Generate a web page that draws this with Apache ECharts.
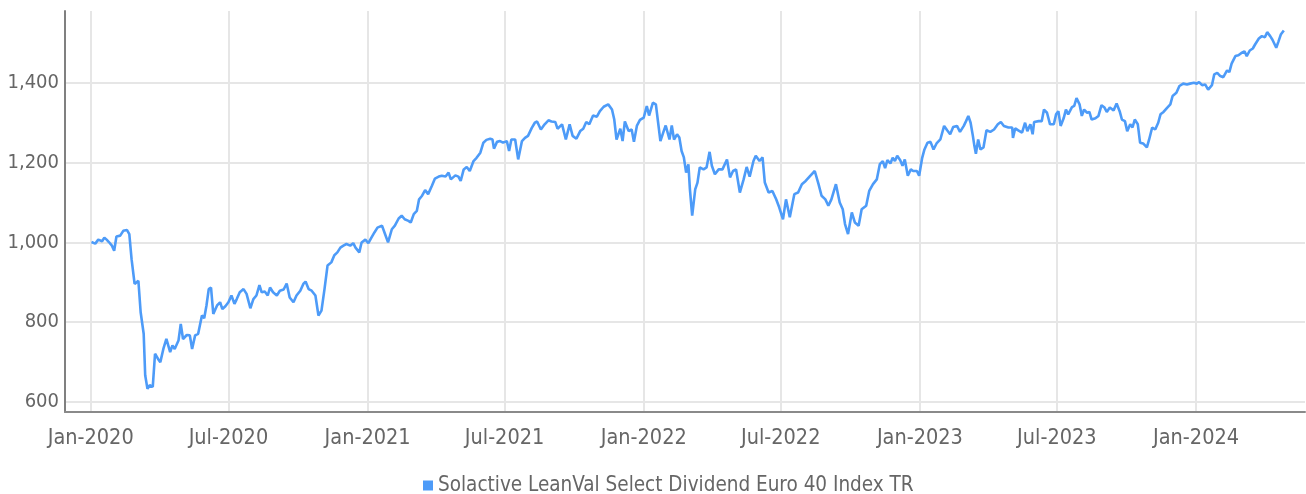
<!DOCTYPE html>
<html>
<head>
<meta charset="utf-8">
<script src="https://cdn.jsdelivr.net/npm/echarts@6/dist/echarts.min.js"></script>
<style>
html,body{margin:0;padding:0;background:#fff;}
#chart{width:1306px;height:494px;}
</style>
</head>
<body>
<div id="chart"></div>
<script>
const seriesName = 'Solactive LeanVal Select Dividend Euro 40 Index TR';
const axisStart = '2019-11-28';
const axisEnd = '2024-05-24';
const yTickLabels = [600, 800, 1000, 1200, 1400];

const dates = [
'2020-01-02','2020-01-07','2020-01-11','2020-01-16','2020-01-19','2020-01-22','2020-01-25','2020-01-29','2020-02-01','2020-02-04',
'2020-02-09','2020-02-13','2020-02-18','2020-02-21','2020-02-24','2020-02-28','2020-03-04','2020-03-07','2020-03-11','2020-03-13',
'2020-03-16','2020-03-19','2020-03-23','2020-03-26','2020-03-30','2020-04-02','2020-04-06','2020-04-10','2020-04-15','2020-04-18',
'2020-04-21','2020-04-26','2020-04-29','2020-05-02','2020-05-07','2020-05-11','2020-05-14','2020-05-18','2020-05-22','2020-05-27',
'2020-05-30','2020-06-02','2020-06-05','2020-06-08','2020-06-11','2020-06-16','2020-06-20','2020-06-23','2020-06-27','2020-07-01',
'2020-07-05','2020-07-09','2020-07-12','2020-07-16','2020-07-21','2020-07-25','2020-07-30','2020-08-03','2020-08-07','2020-08-11',
'2020-08-14','2020-08-18','2020-08-22','2020-08-25','2020-08-29','2020-09-03','2020-09-07','2020-09-12','2020-09-16','2020-09-20',
'2020-09-25','2020-09-29','2020-10-04','2020-10-08','2020-10-11','2020-10-15','2020-10-19','2020-10-24','2020-10-28','2020-11-01',
'2020-11-05','2020-11-09','2020-11-14','2020-11-18','2020-11-22','2020-11-26','2020-11-30','2020-12-04','2020-12-09','2020-12-13',
'2020-12-16','2020-12-21','2020-12-24','2020-12-29','2021-01-02','2021-01-06','2021-01-10','2021-01-14','2021-01-20','2021-01-24',
'2021-01-28','2021-02-02','2021-02-06','2021-02-11','2021-02-15','2021-02-19','2021-02-24','2021-02-27','2021-03-03','2021-03-07',
'2021-03-10','2021-03-14','2021-03-18','2021-03-22','2021-03-27','2021-03-31','2021-04-05','2021-04-09','2021-04-14','2021-04-18',
'2021-04-21','2021-04-27','2021-05-01','2021-05-04','2021-05-08','2021-05-12','2021-05-16','2021-05-21','2021-05-25','2021-05-30',
'2021-06-03','2021-06-07','2021-06-12','2021-06-15','2021-06-17','2021-06-21','2021-06-25','2021-06-29','2021-07-04','2021-07-07',
'2021-07-10','2021-07-15','2021-07-19','2021-07-24','2021-07-28','2021-08-01','2021-08-06','2021-08-10','2021-08-13','2021-08-18',
'2021-08-23','2021-08-28','2021-09-01','2021-09-06','2021-09-09','2021-09-15','2021-09-20','2021-09-25','2021-09-29','2021-10-04',
'2021-10-09','2021-10-13','2021-10-17','2021-10-21','2021-10-26','2021-10-31','2021-11-04','2021-11-09','2021-11-15','2021-11-20',
'2021-11-23','2021-11-26','2021-12-01','2021-12-04','2021-12-07','2021-12-12','2021-12-16','2021-12-19','2021-12-23','2021-12-27',
'2022-01-01','2022-01-05','2022-01-08','2022-01-13','2022-01-17','2022-01-20','2022-01-23','2022-01-27','2022-01-30','2022-02-04',
'2022-02-07','2022-02-10','2022-02-14','2022-02-17','2022-02-20','2022-02-23','2022-02-26','2022-03-01','2022-03-03','2022-03-06',
'2022-03-10','2022-03-13','2022-03-16','2022-03-21','2022-03-25','2022-03-29','2022-04-01','2022-04-05','2022-04-10','2022-04-15',
'2022-04-21','2022-04-25','2022-04-29','2022-05-03','2022-05-08','2022-05-13','2022-05-17','2022-05-21','2022-05-26','2022-05-29',
'2022-06-03','2022-06-07','2022-06-10','2022-06-15','2022-06-20','2022-06-25','2022-06-29','2022-07-04','2022-07-08','2022-07-13',
'2022-07-19','2022-07-24','2022-07-29','2022-08-03','2022-08-09','2022-08-15','2022-08-20','2022-08-24','2022-08-29','2022-09-02',
'2022-09-06','2022-09-12','2022-09-17','2022-09-21','2022-09-24','2022-09-28','2022-10-03','2022-10-07','2022-10-12','2022-10-16',
'2022-10-22','2022-10-26','2022-10-31','2022-11-05','2022-11-09','2022-11-13','2022-11-16','2022-11-19','2022-11-23','2022-11-26',
'2022-11-29','2022-12-02','2022-12-06','2022-12-09','2022-12-12','2022-12-16','2022-12-20','2022-12-23','2022-12-28','2022-12-31',
'2023-01-04','2023-01-07','2023-01-11','2023-01-15','2023-01-19','2023-01-23','2023-01-28','2023-01-30','2023-02-02','2023-02-06',
'2023-02-10','2023-02-14','2023-02-19','2023-02-23','2023-02-28','2023-03-03','2023-03-06','2023-03-09','2023-03-12','2023-03-14',
'2023-03-16','2023-03-19','2023-03-22','2023-03-26','2023-03-30','2023-04-04','2023-04-09','2023-04-14','2023-04-18','2023-04-22',
'2023-04-28','2023-05-03','2023-05-04','2023-05-07','2023-05-11','2023-05-16','2023-05-20','2023-05-23','2023-05-27','2023-05-30',
'2023-06-01','2023-06-07','2023-06-11','2023-06-14','2023-06-18','2023-06-22','2023-06-27','2023-06-30','2023-07-03','2023-07-06',
'2023-07-10','2023-07-13','2023-07-16','2023-07-21','2023-07-24','2023-07-27','2023-07-31','2023-08-03','2023-08-06','2023-08-10',
'2023-08-13','2023-08-16','2023-08-21','2023-08-25','2023-08-29','2023-09-02','2023-09-05','2023-09-09','2023-09-14','2023-09-18',
'2023-09-22','2023-09-25','2023-09-29','2023-10-02','2023-10-06','2023-10-09','2023-10-12','2023-10-16','2023-10-19','2023-10-23',
'2023-10-28','2023-10-31','2023-11-04','2023-11-08','2023-11-12','2023-11-15','2023-11-19','2023-11-24','2023-11-28','2023-12-01',
'2023-12-06','2023-12-10','2023-12-15','2023-12-20','2023-12-24','2023-12-29','2024-01-02','2024-01-05','2024-01-09','2024-01-13',
'2024-01-17','2024-01-22','2024-01-25','2024-01-29','2024-02-02','2024-02-06','2024-02-11','2024-02-14','2024-02-17','2024-02-22',
'2024-02-26','2024-03-01','2024-03-05','2024-03-08','2024-03-12','2024-03-16','2024-03-19','2024-03-24','2024-03-28','2024-04-01',
'2024-04-04','2024-04-08','2024-04-11','2024-04-16','2024-04-19','2024-04-22','2024-04-26'
];

const values = [
1001,997,1007,1003,1012,1007,1001,992,979,1015,
1017,1029,1031,1021,958,896,904,825,771,667,
633,642,638,721,708,700,733,758,725,742,
733,754,796,758,768,767,733,767,771,817,
810,842,883,887,821,842,850,833,840,850,
867,846,858,875,883,871,835,858,867,893,
875,877,867,887,875,867,879,882,897,862,
850,867,879,896,902,883,879,867,817,829,
883,942,950,968,975,987,992,996,992,998,
987,975,1000,1007,998,1012,1025,1037,1042,1021,
1000,1033,1042,1060,1067,1058,1054,1050,1071,1079,
1108,1117,1131,1121,1142,1160,1165,1167,1165,1175,
1158,1168,1165,1154,1183,1189,1179,1204,1212,1225,
1250,1257,1260,1258,1235,1252,1254,1250,1254,1229,
1258,1258,1208,1254,1262,1267,1287,1300,1303,1283,
1296,1306,1303,1302,1285,1296,1258,1296,1267,1260,
1279,1285,1302,1296,1318,1315,1329,1340,1346,1333,
1308,1258,1285,1254,1303,1279,1283,1252,1293,1307,
1313,1342,1318,1350,1346,1300,1254,1277,1293,1258,
1293,1258,1271,1263,1229,1213,1175,1196,1133,1067,
1133,1150,1188,1183,1188,1227,1192,1171,1183,1183,
1208,1163,1179,1183,1125,1158,1189,1165,1204,1217,
1204,1213,1150,1125,1129,1108,1088,1058,1108,1063,
1121,1125,1146,1154,1167,1179,1146,1117,1108,1092,
1108,1146,1100,1083,1046,1021,1075,1050,1042,1083,
1092,1129,1146,1158,1196,1204,1186,1206,1198,1212,
1204,1217,1206,1192,1208,1167,1183,1179,1179,1167,
1212,1233,1250,1252,1233,1248,1258,1254,1292,1281,
1271,1289,1292,1277,1292,1304,1317,1300,1267,1242,
1222,1258,1233,1238,1281,1277,1283,1296,1302,1292,
1288,1288,1262,1286,1281,1275,1300,1279,1296,1271,
1302,1304,1304,1333,1325,1296,1296,1321,1329,1292,
1311,1333,1321,1339,1342,1362,1346,1317,1333,1325,
1327,1308,1311,1317,1344,1338,1327,1338,1331,1348,
1329,1308,1304,1279,1296,1288,1308,1296,1250,1248,
1238,1258,1288,1283,1300,1321,1327,1338,1346,1367,
1375,1392,1398,1396,1398,1400,1398,1402,1394,1396,
1383,1394,1421,1425,1417,1414,1431,1427,1448,1467,
1469,1475,1479,1467,1481,1486,1496,1511,1517,1514,
1527,1517,1508,1488,1504,1521,1531
];

// Build the daily category axis (calendar days) from the axis start/end.
function fmt(d) {
  const y = d.getUTCFullYear();
  const m = String(d.getUTCMonth() + 1).padStart(2, '0');
  const dd = String(d.getUTCDate()).padStart(2, '0');
  return y + '-' + m + '-' + dd;
}
const categories = [];
{
  const s = new Date(axisStart + 'T00:00:00Z');
  const e = new Date(axisEnd + 'T00:00:00Z');
  for (let t = s.getTime(); t <= e.getTime(); t += 86400000) categories.push(fmt(new Date(t)));
}
const valueByDate = {};
dates.forEach((d, i) => { valueByDate[d] = values[i]; });
const seriesData = categories.map(d => (d in valueByDate ? valueByDate[d] : null));

const monthNames = ['Jan','Feb','Mar','Apr','May','Jun','Jul','Aug','Sep','Oct','Nov','Dec'];
const isHalfYear = (idx, val) => /-(01|07)-01$/.test(val);

const FONT = "'Liberation Sans Narrow', 'DejaVu Sans Condensed', Roboto, sans-serif";
const TEXT = '#666666';
const CLEAR = 'rgba(0,0,0,0)';

// grid line colour cycle: ticks every 25 from 575; only multiples of 200 are visible
const yLineColors = [CLEAR, '#e6e6e6', CLEAR, CLEAR, CLEAR, CLEAR, CLEAR, CLEAR];

const chart = echarts.init(document.getElementById('chart'), null, {renderer: 'canvas'});
chart.setOption({
  animation: false,
  backgroundColor: '#ffffff',
  grid: {left: 65, right: 1, top: 11, bottom: 82, containLabel: false, outerBoundsMode: 'none'},
  legend: {
    data: [seriesName],
    left: 418,
    top: 470,
    icon: 'rect',
    itemWidth: 10,
    itemHeight: 10,
    textStyle: {color: TEXT, fontFamily: FONT, fontSize: 20.5}
  },
  xAxis: {
    type: 'category',
    data: categories,
    boundaryGap: false,
    axisLine: {show: true, lineStyle: {color: '#8a8a8a', width: 2}},
    axisTick: {show: false},
    axisLabel: {
      interval: isHalfYear,
      margin: 15,
      color: TEXT,
      fontFamily: FONT,
      fontSize: 21.5,
      formatter: v => monthNames[parseInt(v.slice(5, 7), 10) - 1] + '-' + v.slice(0, 4)
    },
    splitLine: {show: true, interval: isHalfYear, lineStyle: {color: '#e6e6e6', width: 2}}
  },
  yAxis: {
    type: 'value',
    min: 575,
    max: 1580,
    interval: 25,
    axisLine: {show: true, lineStyle: {color: '#808080', width: 2}},
    axisTick: {show: false},
    axisLabel: {
      margin: 6,
      color: TEXT,
      fontFamily: FONT,
      fontSize: 20,
      showMaxLabel: false,
      formatter: v => (yTickLabels.indexOf(v) >= 0 ? v.toLocaleString('en-US') : '')
    },
    splitLine: {show: true, showMaxLine: false, lineStyle: {color: yLineColors, width: 2}}
  },
  series: [{
    name: seriesName,
    type: 'line',
    data: seriesData,
    connectNulls: true,
    showSymbol: false,
    symbol: 'none',
    color: '#4d9bf8',
    lineStyle: {color: '#4d9bf8', width: 2.6}
  }]
});
</script>
</body>
</html>
